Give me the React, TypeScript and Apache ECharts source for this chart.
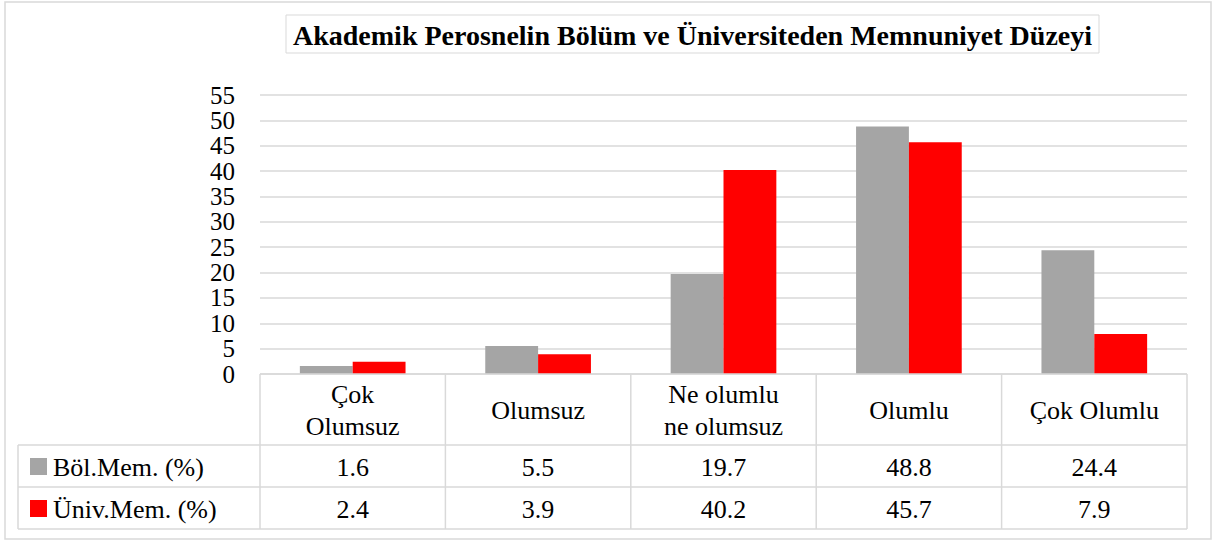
import React, { useEffect, useRef } from "react";
import * as echarts from "echarts";

const categories = ["Çok\nOlumsuz", "Olumsuz", "Ne olumlu\nne olumsuz", "Olumlu", "Çok Olumlu"];
const seriesNames = ["Böl.Mem. (%)", "Üniv.Mem. (%)"];
const bolMem = [1.6, 5.5, 19.7, 48.8, 24.4];
const univMem = [2.4, 3.9, 40.2, 45.7, 7.9];
const colors = ["#a5a5a5", "#ff0000"];
const titleText = "Akademik Perosnelin Bölüm ve Üniversiteden Memnuniyet Düzeyi";

const W = 1215;
const H = 542;
const GL = 260;
const GR = 1187;
const GT = 95;
const GB = 374;
const ROW0 = 445;
const ROW1 = 487;
const ROW2 = 529;
const LEGL = 18;
const FONT = "Liberation Serif";
const LINE = "#d9d9d9";

export default function App() {
  const ref = useRef<HTMLDivElement>(null);
  useEffect(() => {
    if (!ref.current) return;
    const chart = echarts.init(ref.current, undefined, { renderer: "svg" });
    const colW = (GR - GL) / categories.length;
    const g: any[] = [];
    const txt = (size: number, extra: any = {}) => ({ fontFamily: FONT, fontSize: size, fill: "#000", ...extra });
    g.push({ type: "rect", shape: { x: 5, y: 2, width: W - 9, height: H - 5 }, style: { fill: "none", stroke: LINE, lineWidth: 1.5 }, z: 0 });
    g.push({ type: "rect", shape: { x: 286, y: 15, width: 813, height: 38 }, style: { fill: "#fff", stroke: LINE, lineWidth: 1 } });
    g.push({ type: "text", x: 692.5, y: 35, style: txt(28, { text: titleText, fontWeight: "bold", align: "center", verticalAlign: "middle" }) });
    const hl = (x1: number, x2: number, y: number) =>
      g.push({ type: "line", shape: { x1, y1: y, x2, y2: y }, style: { stroke: LINE, lineWidth: 1.5 }, z: 10 });
    const vl = (x: number, y1: number, y2: number) =>
      g.push({ type: "line", shape: { x1: x, y1, x2: x, y2 }, style: { stroke: LINE, lineWidth: 1.5 }, z: 10 });
    hl(GL, GR, GB);
    hl(LEGL, GR, ROW0);
    hl(LEGL, GR, ROW1);
    hl(LEGL, GR, ROW2);
    vl(LEGL, ROW0, ROW2);
    for (let i = 0; i <= categories.length; i++) vl(GL + i * colW, GB, ROW2);
    categories.forEach((c, i) => {
      g.push({ type: "text", x: GL + (i + 0.5) * colW, y: (GB + ROW0) / 2 + 1, style: txt(26, { text: c, lineHeight: 32, align: "center", verticalAlign: "middle" }) });
    });
    const rows = [bolMem, univMem];
    const rowY = [(ROW0 + ROW1) / 2, (ROW1 + ROW2) / 2];
    rows.forEach((vals, r) => {
      g.push({ type: "rect", shape: { x: 30, y: rowY[r] - 8, width: 17, height: 17 }, style: { fill: colors[r] } });
      g.push({ type: "text", x: 53, y: rowY[r] + 1, style: txt(26, { text: seriesNames[r], align: "left", verticalAlign: "middle" }) });
      vals.forEach((v, i) => {
        g.push({ type: "text", x: GL + (i + 0.5) * colW, y: rowY[r] + 1, style: txt(26, { text: v.toFixed(1), align: "center", verticalAlign: "middle" }) });
      });
    });

    chart.setOption({
      animation: false,
      backgroundColor: "#fff",
      grid: { left: GL, right: W - GR, top: GT, bottom: H - GB, containLabel: false },
      xAxis: {
        type: "category",
        data: categories,
        axisLine: { show: false },
        axisTick: { show: false },
        axisLabel: { show: false },
        splitLine: { show: false },
      },
      yAxis: {
        type: "value",
        min: 0,
        max: 55,
        interval: 5,
        axisLine: { show: false },
        axisTick: { show: false },
        axisLabel: { color: "#000", fontFamily: FONT, fontSize: 25, margin: 25, showMinLabel: true, showMaxLabel: true, hideOverlap: false },
        splitLine: { lineStyle: { color: LINE, width: 1.5 } },
      },
      series: [
        { name: seriesNames[0], type: "bar", data: bolMem, itemStyle: { color: colors[0] }, barGap: "0%", barCategoryGap: "43%" },
        { name: seriesNames[1], type: "bar", data: univMem, itemStyle: { color: colors[1] }, barGap: "0%", barCategoryGap: "43%" },
      ],
      graphic: g,
    });
    return () => chart.dispose();
  }, []);
  return <div ref={ref} style={{ position: "fixed", left: 0, top: 0, width: W, height: H }} />;
}
